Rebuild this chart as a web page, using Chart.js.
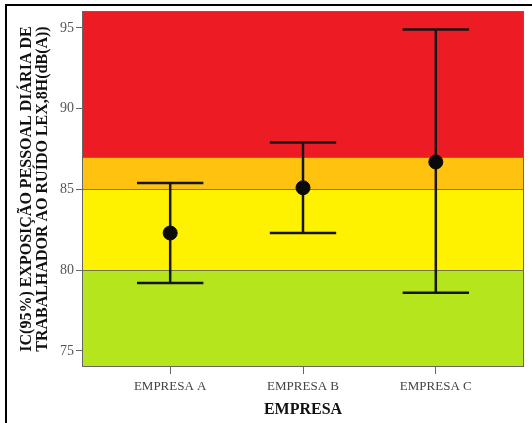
<!DOCTYPE html>
<html>
<head>
<meta charset="utf-8">
<script src="https://cdn.jsdelivr.net/npm/chart.js@4"></script>
<style>
html, body { margin: 0; padding: 0; background: #fff; }
</style>
</head>
<body>
<canvas id="icChart" width="532" height="423"></canvas>
<script>
// dados
const empresas = ['EMPRESA A', 'EMPRESA B', 'EMPRESA C'];
const media = [82.3, 85.1, 86.7];
const limiteInf = [79.2, 82.3, 78.6];
const limiteSup = [85.4, 87.9, 94.9];
const yTicks = [75, 80, 85, 90, 95];
const faixaLimites = [74, 80, 85, 87, 96.05];
const faixaCores = ['#b5e61d', '#fff200', '#ffc20e', '#ed1c24'];

const serif = '"Liberation Serif", "Times New Roman", serif';
const corLinha = '#161616';
const meiaBarra = 0.25;

// faixas de fundo e contorno da area do grafico
const faixasPlugin = {
    id: 'faixas',
    beforeDatasetsDraw(chart) {
        const { ctx, chartArea: a, scales: { y } } = chart;
        ctx.save();
        for (let i = 0; i < faixaCores.length; i++) {
            const y0 = y.getPixelForValue(faixaLimites[i]);
            const y1 = y.getPixelForValue(faixaLimites[i + 1]);
            ctx.fillStyle = faixaCores[i];
            ctx.fillRect(a.left, y1, a.right - a.left, y0 - y1);
        }
        ctx.strokeStyle = 'rgba(90,90,90,0.8)';
        ctx.lineWidth = 1;
        for (let i = 1; i < faixaLimites.length - 1; i++) {
            const py = Math.round(y.getPixelForValue(faixaLimites[i])) + 0.5;
            ctx.beginPath();
            ctx.moveTo(a.left, py);
            ctx.lineTo(a.right, py);
            ctx.stroke();
        }
        ctx.strokeStyle = '#666';
        ctx.strokeRect(Math.round(a.left) + 0.5, Math.round(a.top) + 0.5,
            Math.round(a.right - a.left) - 1, Math.round(a.bottom - a.top) - 1);
        ctx.restore();
    },
    afterDraw(chart) {
        const ctx = chart.ctx;
        ctx.save();
        ctx.fillStyle = '#000';
        ctx.fillRect(5, 4, 2, chart.height - 4);
        ctx.fillRect(5, 4, chart.width - 5, 2);
        ctx.restore();
    }
};

const datasets = [];
empresas.forEach((nome, i) => {
    const x = i + 1;
    const estilo = { type: 'line', borderColor: corLinha, borderWidth: 2.5, pointRadius: 0, fill: false, order: 2 };
    datasets.push({ ...estilo, data: [{ x: x, y: limiteInf[i] }, { x: x, y: limiteSup[i] }] });
    datasets.push({ ...estilo, data: [{ x: x - meiaBarra, y: limiteSup[i] }, { x: x + meiaBarra, y: limiteSup[i] }] });
    datasets.push({ ...estilo, data: [{ x: x - meiaBarra, y: limiteInf[i] }, { x: x + meiaBarra, y: limiteInf[i] }] });
});
datasets.push({
    type: 'scatter',
    data: media.map((m, i) => ({ x: i + 1, y: m })),
    pointRadius: 7,
    pointBackgroundColor: '#0a0a0a',
    pointBorderColor: '#0a0a0a',
    order: 1
});

new Chart(document.getElementById('icChart'), {
    type: 'scatter',
    data: { datasets: datasets },
    plugins: [faixasPlugin],
    options: {
        responsive: false,
        animation: false,
        layout: { padding: { left: 0, top: 11, right: 4, bottom: 0 } },
        plugins: { legend: { display: false }, tooltip: { enabled: false } },
        scales: {
            x: {
                type: 'linear',
                min: 0.336,
                max: 3.664,
                afterBuildTicks: (axis) => { axis.ticks = empresas.map((_, i) => ({ value: i + 1 })); },
                afterFit: (axis) => { axis.height = 56; },
                border: { display: false },
                grid: { drawOnChartArea: false, tickLength: 7, color: '#666' },
                ticks: {
                    callback: (v) => empresas[v - 1],
                    font: { family: serif, size: 13 },
                    color: '#444',
                    padding: 5,
                    maxRotation: 0
                },
                title: {
                    display: true,
                    text: 'EMPRESA',
                    font: { family: serif, size: 16, weight: 'bold' },
                    color: '#111',
                    padding: { top: 0, bottom: 4 }
                }
            },
            y: {
                min: 74,
                max: 96.05,
                afterBuildTicks: (axis) => { axis.ticks = yTicks.map(v => ({ value: v })); },
                afterFit: (axis) => { axis.width = 82; },
                border: { display: false },
                grid: { drawOnChartArea: false, tickLength: 6, color: '#666' },
                ticks: {
                    font: { family: serif, size: 14 },
                    color: '#555',
                    padding: 2
                },
                title: {
                    display: true,
                    text: ['IC(95%) EXPOSIÇÃO PESSOAL DIÁRIA DE', 'TRABALHADOR AO RUÍDO LEX,8H(dB(A))'],
                    font: { family: serif, size: 16, weight: 'bold', lineHeight: '16px' },
                    color: '#111',
                    padding: { top: 19, bottom: 0 }
                }
            }
        }
    }
});
</script>
</body>
</html>
